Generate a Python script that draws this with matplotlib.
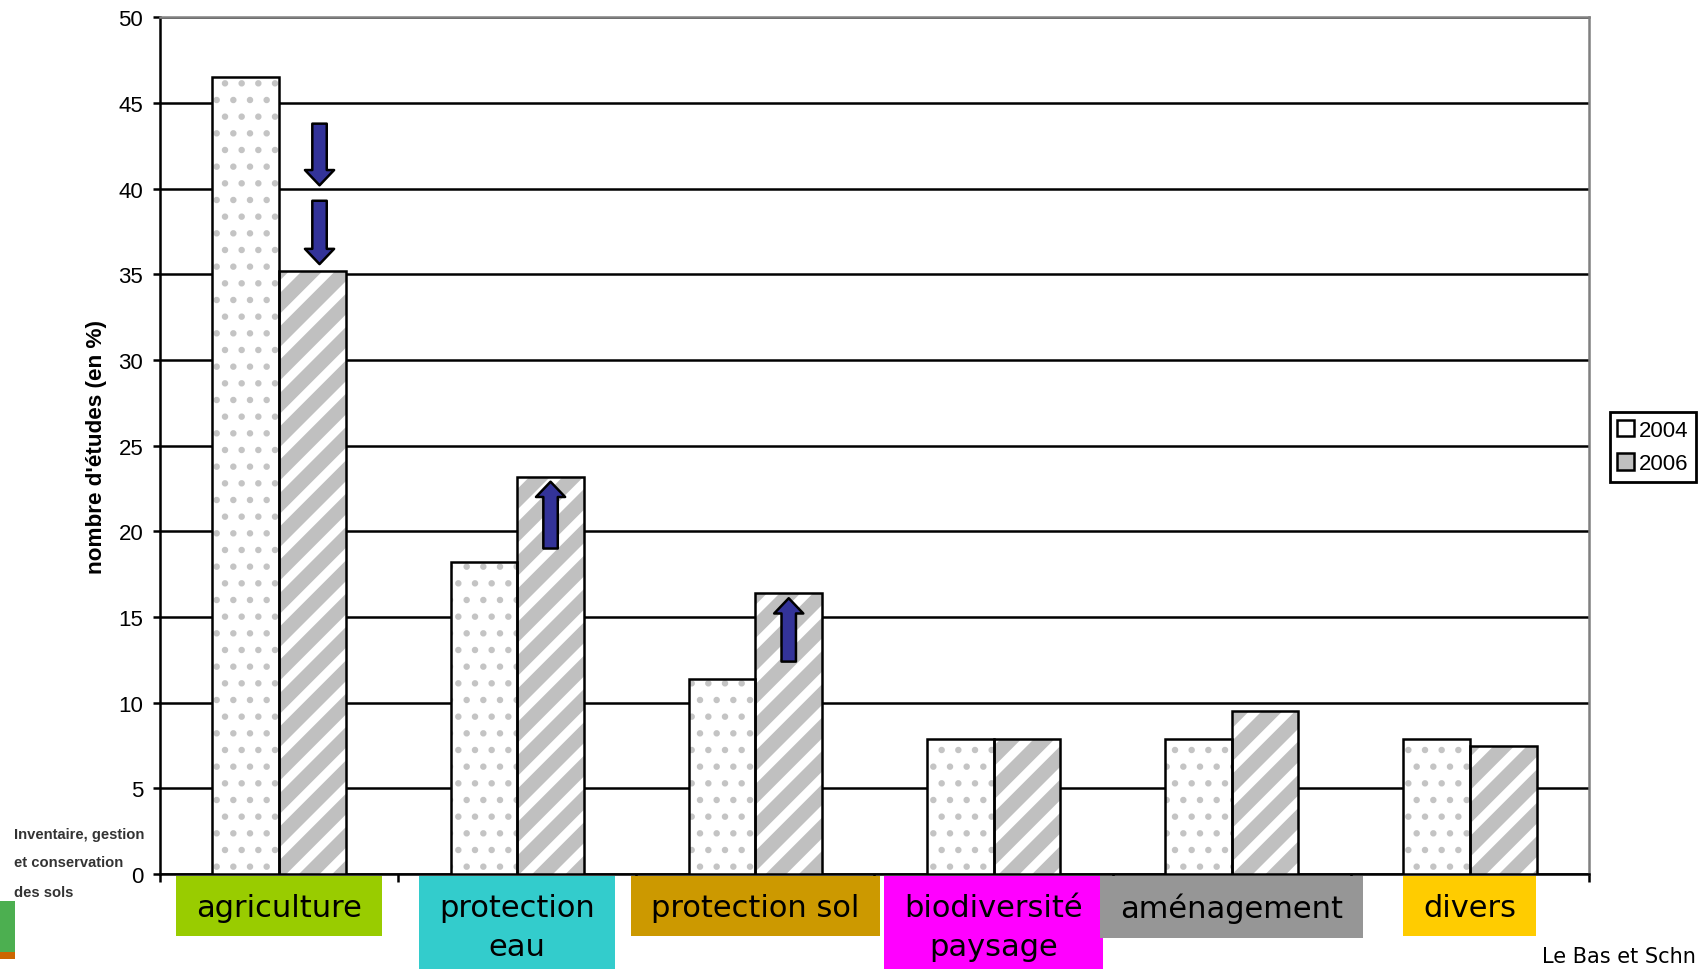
import matplotlib
matplotlib.use('Agg')
import matplotlib.pyplot as plt
import matplotlib.patches as mpatches
import numpy as np

categories = ['agriculture', 'protection\neau', 'protection sol', 'biodiversité\npaysage', 'aménagement', 'divers']
cat_colors = ['#99cc00', '#33cccc', '#cc9900', '#ff00ff', '#969696', '#ffcc00']
v2004 = [46.5, 18.2, 11.4, 7.9, 7.9, 7.9]
v2006 = [35.2, 23.2, 16.4, 7.9, 9.5, 7.5]
# arrows drawn over the 2006 bars: (x position, tail value, head value)
arrows = [(0.17, 43.8, 40.2), (0.17, 39.3, 35.6), (1.14, 19.0, 22.9), (2.14, 12.4, 16.1)]

plt.rcParams['font.family'] = ['Liberation Sans', 'DejaVu Sans']

fig = plt.figure(figsize=(8.49, 4.85), dpi=200)
ax = fig.add_axes([0.0942, 0.0979, 0.8416, 0.8831])

x = np.arange(len(categories))
w = 0.28

with plt.rc_context({'hatch.linewidth': 1.1}):
    b1 = ax.bar(x - w/2, v2004, w, color='white', hatch='..', edgecolor='#c4c4c4', linewidth=0, zorder=3)
for p in b1:
    if hasattr(p, 'set_hatch_linewidth'):
        p.set_hatch_linewidth(1.1)
with plt.rc_context({'hatch.linewidth': 3.2}):
    b2 = ax.bar(x + w/2, v2006, w, color='#c0c0c0', hatch='//', edgecolor='white', linewidth=0, zorder=3)
for p in b2:
    if hasattr(p, 'set_hatch_linewidth'):
        p.set_hatch_linewidth(3.2)
# outlines
ax.bar(x - w/2, v2004, w, fill=False, edgecolor='black', linewidth=0.9, zorder=4)
ax.bar(x + w/2, v2006, w, fill=False, edgecolor='black', linewidth=0.9, zorder=4)

for xa, y0, y1 in arrows:
    ax.annotate('', xy=(xa, y1), xytext=(xa, y0),
                arrowprops=dict(arrowstyle='simple,head_length=0.55,head_width=1.05,tail_width=0.52',
                                mutation_scale=10, facecolor='#333399', edgecolor='black',
                                linewidth=0.9, shrinkA=0, shrinkB=0), zorder=6)

ax.set_xlim(-0.5, 5.5)
ax.set_ylim(0, 50)
ax.set_yticks(np.arange(0, 51, 5))
ax.yaxis.grid(True, color='black', linewidth=0.9)
ax.set_axisbelow(True)
ax.tick_params(axis='y', labelsize=8, length=2.5, width=0.9, pad=3.5)
ax.set_xticks(np.arange(-0.5, 6, 1))
ax.set_xticklabels([])
ax.tick_params(axis='x', length=3, width=0.9, direction='out')
ax.spines['left'].set_linewidth(0.9)
ax.spines['bottom'].set_linewidth(0.9)
for s in ['top', 'right']:
    ax.spines[s].set_color('#808080')
    ax.spines[s].set_linewidth(0.9)

fig.text(0.057, 0.539, "nombre d'études (en %)", rotation=90, ha='center', va='center',
         fontsize=8.1, fontweight='bold')

# category labels in coloured boxes under the axis
H = 970.0
box_top = 877.0
label_texts = []
for i, lab in enumerate(categories):
    xd = ax.transData.transform((i, 0))[0]
    t = fig.text(xd / 1698.0, 1 - (box_top + 17) / H, lab, ha='center', va='top', fontsize=11,
                 family='DejaVu Sans', linespacing=1.45, zorder=5)
    label_texts.append(t)
fig.canvas.draw()
r = fig.canvas.get_renderer()
for t, col in zip(label_texts, cat_colors):
    ext = t.get_window_extent(r)
    x0, x1 = ext.x0 - 20, ext.x1 + 20
    y1 = H - box_top
    y0 = ext.y0 - 14
    fig.patches.append(mpatches.Rectangle((x0 / 1698.0, y0 / H), (x1 - x0) / 1698.0, (y1 - y0) / H,
                                          transform=fig.transFigure, facecolor=col,
                                          edgecolor='none', zorder=2))

handles = [mpatches.Patch(facecolor='white', edgecolor='black', linewidth=0.9, label='2004'),
           mpatches.Patch(facecolor='#c0c0c0', edgecolor='black', linewidth=0.9, label='2006')]
leg = fig.legend(handles=handles, loc='upper left', bbox_to_anchor=(0.948, 0.574), fontsize=8,
                 handlelength=0.75, handleheight=0.75, handletextpad=0.2, borderpad=0.35,
                 labelspacing=0.55, fancybox=False, framealpha=1, borderaxespad=0)
leg.get_frame().set_edgecolor('black')
leg.get_frame().set_linewidth(1.0)

for yy, t in [(0.139, 'Inventaire, gestion'), (0.110, 'et conservation'), (0.079, 'des sols')]:
    fig.text(0.008, yy, t, fontsize=5.3, fontweight='bold', color='#333333', va='center',
             family=['Liberation Sans Narrow', 'Liberation Sans'])
fig.patches.append(mpatches.Rectangle((0, 0.018), 0.009, 0.052, transform=fig.transFigure,
                                      facecolor='#4caf50', edgecolor='none'))
fig.patches.append(mpatches.Rectangle((0, 0.010), 0.009, 0.008, transform=fig.transFigure,
                                      facecolor='#cc6600', edgecolor='none'))
fig.text(0.999, 0.013, 'Le Bas et Schn', fontsize=7.5, family='DejaVu Sans', ha='right', va='center')

fig.savefig('out.png', dpi=200)
